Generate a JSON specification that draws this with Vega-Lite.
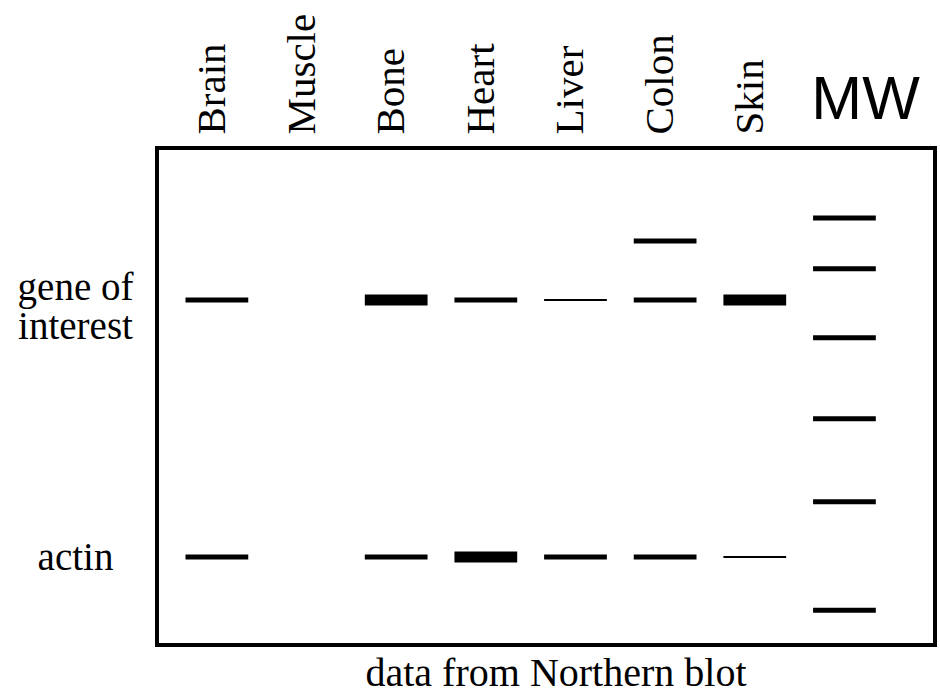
{
  "$schema": "https://vega.github.io/schema/vega-lite/v6.json",
  "autosize": "none",
  "padding": {"left": 157, "top": 148, "right": 5, "bottom": 49},
  "width": 778,
  "height": 497,
  "background": "white",
  "config": {
    "view": {"stroke": "black", "strokeWidth": 4},
    "font": "Liberation Serif"
  },
  "title": {
    "text": "data from Northern blot",
    "orient": "bottom",
    "font": "Liberation Serif",
    "fontSize": 40,
    "fontWeight": "normal",
    "color": "black",
    "offset": 9,
    "dx": 10
  },
  "data": {
    "values": [
      {"lane": "Brain", "probe": "gene of interest", "distance": 30.58, "signal": 2},
      {"lane": "Bone", "probe": "gene of interest", "distance": 30.58, "signal": 3},
      {"lane": "Heart", "probe": "gene of interest", "distance": 30.58, "signal": 2},
      {"lane": "Liver", "probe": "gene of interest", "distance": 30.58, "signal": 1},
      {"lane": "Colon", "probe": "gene of interest", "distance": 18.7, "signal": 2},
      {"lane": "Colon", "probe": "gene of interest", "distance": 30.58, "signal": 2},
      {"lane": "Skin", "probe": "gene of interest", "distance": 30.58, "signal": 3},
      {"lane": "Brain", "probe": "actin", "distance": 82.3, "signal": 2},
      {"lane": "Bone", "probe": "actin", "distance": 82.3, "signal": 2},
      {"lane": "Heart", "probe": "actin", "distance": 82.3, "signal": 3},
      {"lane": "Liver", "probe": "actin", "distance": 82.3, "signal": 2},
      {"lane": "Colon", "probe": "actin", "distance": 82.3, "signal": 2},
      {"lane": "Skin", "probe": "actin", "distance": 82.3, "signal": 1},
      {"lane": "MW", "probe": "marker", "distance": 14.1, "signal": 2},
      {"lane": "MW", "probe": "marker", "distance": 24.3, "signal": 2},
      {"lane": "MW", "probe": "marker", "distance": 38.2, "signal": 2},
      {"lane": "MW", "probe": "marker", "distance": 54.5, "signal": 2},
      {"lane": "MW", "probe": "marker", "distance": 71.2, "signal": 2},
      {"lane": "MW", "probe": "marker", "distance": 93.0, "signal": 2}
    ]
  },
  "mark": {"type": "rule", "color": "black", "strokeCap": "butt"},
  "encoding": {
    "x": {
      "field": "lane",
      "type": "nominal",
      "bandPosition": 0,
      "scale": {
        "domain": ["Brain", "Muscle", "Bone", "Heart", "Liver", "Colon", "Skin", "MW"],
        "paddingInner": 0.3,
        "paddingOuter": 0.489,
        "align": 0.325
      },
      "axis": {
        "orient": "top",
        "title": "MW",
        "titleFont": "Liberation Sans",
        "titleFontSize": 61,
        "titleFontWeight": "normal",
        "titleColor": "black",
        "titleAngle": 0,
        "titleAlign": "center",
        "titleBaseline": "alphabetic",
        "titleX": 708,
        "titleY": -30,
        "domain": false,
        "ticks": false,
        "grid": false,
        "labelExpr": "datum.value === 'MW' ? '' : datum.value",
        "labelAngle": -90,
        "labelAlign": "left",
        "labelBaseline": "middle",
        "labelPadding": 14,
        "labelOffset": -4,
        "labelFont": "Liberation Serif",
        "labelFontSize": 41,
        "labelColor": "black",
        "labelLimit": 0
      }
    },
    "x2": {"field": "lane", "bandPosition": 1},
    "y": {
      "field": "distance",
      "type": "quantitative",
      "scale": {"domain": [0, 100], "reverse": true, "nice": false, "zero": false},
      "axis": {
        "orient": "left",
        "title": null,
        "domain": false,
        "ticks": false,
        "grid": false,
        "values": [30.58, 82.3],
        "labelExpr": "datum.value < 50 ? ['gene of', 'interest'] : 'actin'",
        "labelAlign": "center",
        "labelBaseline": {"condition": {"test": "datum.value < 50", "value": "alphabetic"}, "value": "middle"},
        "labelPadding": 82,
        "labelFont": "Liberation Serif",
        "labelFontSize": 39,
        "labelLineHeight": 39,
        "labelColor": "black",
        "labelLimit": 0
      }
    },
    "strokeWidth": {
      "field": "signal",
      "type": "ordinal",
      "scale": {"type": "ordinal", "domain": [1, 2, 3], "range": [2, 5, 11]},
      "legend": null
    }
  }
}
